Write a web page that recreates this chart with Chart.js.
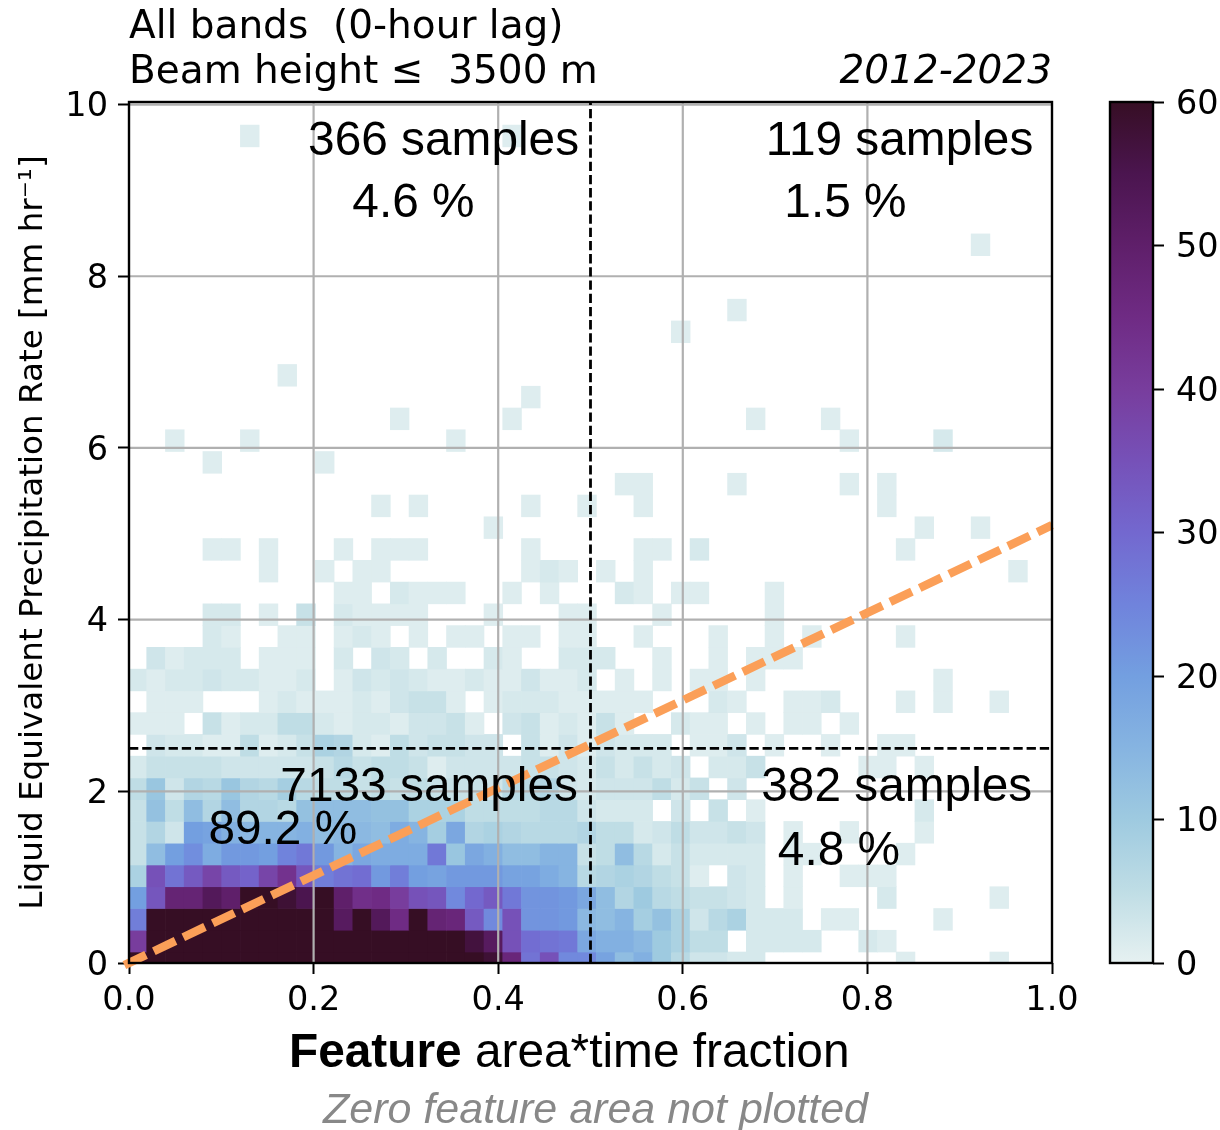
<!DOCTYPE html>
<html>
<head>
<meta charset="utf-8">
<style>
html,body{margin:0;padding:0;background:#fff;width:1220px;height:1130px;overflow:hidden}
#wrap{position:relative;width:1220px;height:1130px}
canvas{position:absolute;display:block}
</style>
<script src="https://cdn.jsdelivr.net/npm/chart.js@4/dist/chart.umd.min.js"></script>
</head>
<body>
<div id="wrap">
<canvas id="main" width="1220" height="1130" style="left:0;top:0;width:1220px;height:1130px"></canvas>
<canvas id="bar" width="120" height="1130" style="left:1100px;top:0;width:120px;height:1130px"></canvas>
</div>
<script>
// Sample counts per histogram cell, rows from the bottom (0 mm/hr) upward, 50 columns each.
const row0  = [60,60,60,60,60,60,60,60,60,60,60,60,60,60,60,60,60,60,60,58,47,28,35,24,24, 19,13,16,10,6,3,3,2,2,0,0,0,0,0,0,0,1,0,0,0,0,1,0,0,0];
const row1  = [40,60,60,60,60,60,60,60,60,60,60,60,60,60,60,60,60,60,57,52,35,29,28,27,18, 16,16,14,10,8,5,5,0,2,2,2,2,0,0,2,1,0,0,0,0,0,0,0,0,0];
const row2  = [26,60,60,60,60,60,60,60,60,60,60,52,60,53,45,60,48,47,33,24,35,22,22,21,14, 13,15,9,12,8,3,6,8,2,2,2,0,1,1,0,0,0,0,1,0,0,0,0,0,0];
const row3  = [20,34,48,48,53,50,60,60,58,55,60,50,44,45,40,35,34,24,30,33,27,22,22,21,18, 13,7,10,6,5,4,4,3,2,0,1,0,0,0,0,2,0,0,0,0,0,1,0,0,0];
const row4  = [8,35,28,33,38,33,31,38,43,34,26,28,29,21,26,20,19,21,21,21,19,19,17,15,6, 7,8,7,5,4,1,0,3,2,0,1,0,0,1,1,1,0,0,0,0,0,0,0,0,0];
const row5  = [4,13,20,23,17,21,21,20,25,27,21,15,18,17,17,17,27,11,18,16,13,13,15,15,4, 5,13,6,2,4,2,2,2,2,0,1,1,0,0,0,0,1,0,0,0,0,0,0,0,0];
const row6  = [4,7,3,20,19,16,14,15,15,16,13,14,14,13,17,15,9,18,7,8,7,6,6,6,7, 5,5,2,3,5,3,3,4,3,0,1,0,0,1,0,0,0,1,0,0,0,0,0,0,0];
const row7  = [4,12,5,13,7,13,7,7,6,12,13,13,13,12,12,8,8,8,5,5,5,5,6,6,3, 2,2,2,0,3,0,4,0,1,0,0,0,0,0,0,0,0,2,0,0,0,0,0,0,0];
const row8  = [5,11,3,7,6,11,7,6,9,6,5,5,4,5,4,5,4,4,4,3,6,6,7,3,2, 3,3,3,5,2,4,0,3,0,0,0,0,0,0,0,0,0,0,0,0,0,0,0,0,0];
const row9  = [2,4,4,4,4,3,3,3,3,3,4,6,4,5,5,4,1,3,3,3,3,4,4,3,2, 4,2,4,2,3,0,2,2,4,0,0,0,0,0,1,1,0,1,0,0,0,0,0,0,0];
const row10 = [0,3,2,2,1,1,5,1,2,4,8,7,2,1,5,3,4,4,3,3,0,4,1,3,1, 3,2,2,2,0,1,1,3,0,1,0,0,1,0,0,1,1,0,0,0,0,0,0,0,0];
const row11 = [1,1,1,0,4,1,2,2,5,5,2,1,2,2,1,3,3,4,1,0,3,4,1,2,1, 4,1,0,0,2,1,1,0,1,0,1,1,0,1,0,0,0,0,0,0,0,0,0,0,0];
const row12 = [0,1,1,1,0,0,0,1,2,1,1,1,2,1,3,4,4,1,0,1,2,2,2,1,1, 1,1,1,0,0,0,2,1,0,0,1,1,2,0,0,0,1,0,1,0,0,1,0,0,0];
const row13 = [2,1,2,2,3,2,2,1,1,2,0,1,3,2,3,2,1,1,2,1,1,3,1,1,2, 0,1,0,1,0,1,1,0,1,0,0,0,0,0,0,0,0,0,1,0,0,0,0,0,0];
const row14 = [0,3,1,2,2,2,0,1,1,1,0,2,0,3,2,0,2,0,0,2,1,0,0,2,2, 2,0,0,1,0,0,1,0,1,1,1,0,0,0,0,0,0,0,0,0,0,0,0,0,0];
const denseRows = [row0,row1,row2,row3,row4,row5,row6,row7,row8,row9,row10,row11,row12,row13,row14];
// Sparse upper rows: [row, column, count]
const sparseCells = [
 [15,4,2],[15,5,1],[15,8,1],[15,9,1],[15,11,1],[15,12,2],[15,13,1],[15,15,1],[15,17,1],[15,18,1],[15,20,1],[15,21,1],[15,23,1],[15,24,1],[15,27,1],[15,31,1],[15,34,1],[15,36,1],[15,41,1],
 [16,4,2],[16,5,2],[16,7,1],[16,9,4],[16,11,2],[16,12,1],[16,13,1],[16,14,1],[16,15,1],[16,19,1],[16,23,1],[16,24,1],[16,28,1],[16,34,1],
 [17,11,1],[17,12,1],[17,14,2],[17,15,1],[17,16,1],[17,17,1],[17,20,1],[17,22,1],[17,26,2],[17,27,1],[17,29,1],[17,30,1],[17,34,1],
 [18,7,1],[18,10,1],[18,12,1],[18,13,1],[18,21,1],[18,22,2],[18,23,1],[18,25,1],[18,27,1],[18,47,1],
 [19,4,1],[19,5,1],[19,7,1],[19,11,1],[19,13,1],[19,14,1],[19,15,1],[19,21,1],[19,27,1],[19,28,1],[19,30,2],[19,41,1],
 [20,19,1],[20,42,1],[20,45,1],
 [21,13,1],[21,15,1],[21,21,1],[21,24,1],[21,27,1],[21,40,1],
 [22,26,1],[22,27,1],[22,32,1],[22,38,1],[22,40,1],
 [23,4,1],[23,10,1],
 [24,2,1],[24,6,1],[24,17,1],[24,38,1],[24,43,2],
 [25,14,1],[25,20,1],[25,33,1],[25,37,1],
 [26,21,1],[27,8,1],[29,29,1],[30,32,1],[33,45,1],[38,6,1],[38,20,1]
];
const xTicks = [0,0.2,0.4,0.6,0.8,1];
const yTicks = [0,2,4,6,8,10];
const colorTicks = [0,10,20,30,40,50,60];
const fitLine = [{x:-0.005,y:-0.0255},{x:1,y:5.1}];
const xSplit = 0.5;
const ySplit = 2.5;
const quadrantLabels = [
 {text:"366 samples",x:0.194,y:9.41},{text:"4.6 %",x:0.242,y:8.69},
 {text:"119 samples",x:0.690,y:9.41},{text:"1.5 %",x:0.710,y:8.69},
 {text:"7133 samples",x:0.164,y:1.89},{text:"89.2 %",x:0.086,y:1.39},
 {text:"382 samples",x:0.685,y:1.89},{text:"4.8 %",x:0.703,y:1.14}
];
const titleLine1 = "All bands  (0-hour lag)";
const titleLine2 = "Beam height \u2264  3500 m";
const yearsLabel = "2012-2023";
const yAxisLabel = "Liquid Equivalent Precipitation Rate [mm hr\u207B\u00B9]";
const xLabelBold = "Feature";
const xLabelRest = " area*time fraction";
const footnote = "Zero feature area not plotted";
const denseStops = [[0,"#e6f1f1"],[5,"#bfdde5"],[10,"#9ecae0"],[15,"#86b4e1"],[20,"#739fe0"],[25,"#7083dc"],[30,"#7368cf"],[35,"#7651b8"],[40,"#783d9d"],[45,"#6f2b84"],[50,"#5f1f6a"],[55,"#4b154f"],[60,"#360e24"]];

// Layout of the plot
const plotLeft=129, plotRight=1052, plotTop=102, plotBottom=963, yTop=10.03;
const colW = 0.0203, colStart = -0.0011, firstRowTop = 0.128, rowH = 0.2535;

function hex(c){return [1,3,5].map(i=>parseInt(c.substr(i,2),16));}
function colormap(v){
  v=Math.min(60,Math.max(0,v));
  for(let i=1;i<denseStops.length;i++){
    if(v<=denseStops[i][0]){
      const a=denseStops[i-1],b=denseStops[i],t=(v-a[0])/(b[0]-a[0]);
      const A=hex(a[1]),B=hex(b[1]);
      return "rgb("+A.map((q,j)=>Math.round(q+(B[j]-q)*t)).join(",")+")";
    }
  }
  return denseStops[denseStops.length-1][1];
}
function cell(k,i,v){
  const lo = k===0 ? 0 : firstRowTop+rowH*(k-1);
  const hi = firstRowTop+rowH*k;
  return {x:colStart+colW*(i+0.5), y:[lo,hi], v};
}
const cells=[];
denseRows.forEach((r,k)=>r.forEach((v,i)=>{ if(v>0) cells.push(cell(k,i,v)); }));
sparseCells.forEach(([k,i,v])=>{ if(v>0) cells.push(cell(k,i,v)); });

const tickFont={family:"'DejaVu Sans'",size:33.5};
const grey="#b0b0b0";
function gridSets(){
  const out=[];
  xTicks.filter(t=>t>0&&t<1).forEach(t=>out.push({type:'line',data:[{x:t,y:0},{x:t,y:yTop}],borderColor:grey,borderWidth:2.2,pointRadius:0,order:4}));
  yTicks.filter(t=>t>0).forEach(t=>out.push({type:'line',data:[{x:0,y:t},{x:1,y:t}],borderColor:grey,borderWidth:2.2,pointRadius:0,order:4}));
  return out;
}
const decorate={
  id:'decorate',
  afterDraw(chart){
    const c=chart.ctx,a=chart.chartArea,sx=chart.scales.x,sy=chart.scales.y;
    c.save();
    c.strokeStyle="#000";c.lineWidth=2.4;c.strokeRect(a.left,a.top,a.right-a.left,a.bottom-a.top);
    c.fillStyle="#000";c.textAlign="left";c.textBaseline="alphabetic";
    c.font="47.8px 'Liberation Sans'";
    quadrantLabels.forEach(l=>c.fillText(l.text,sx.getPixelForValue(l.x),sy.getPixelForValue(l.y)));
    c.font="39px 'DejaVu Sans'";
    c.fillText(titleLine1,129,38);
    c.fillText(titleLine2,129,83);
    c.font="italic 39px 'DejaVu Sans'";c.textAlign="right";
    c.fillText(yearsLabel,plotRight,83);
    c.textAlign="left";
    c.font="bold 47.8px 'Liberation Sans'";
    const w=c.measureText(xLabelBold).width;
    c.fillText(xLabelBold,289,1067);
    c.font="47.8px 'Liberation Sans'";
    c.fillText(xLabelRest,289+w,1067);
    c.font="italic 43px 'Liberation Sans'";c.fillStyle="#888888";
    c.fillText(footnote,323,1123);
    c.restore();
  }
};
new Chart(document.getElementById('main'),{
  type:'bar',
  data:{datasets:[
    {type:'bar',data:cells,order:5,barThickness:(plotRight-plotLeft)*colW,grouped:false,borderWidth:0,
     backgroundColor:ctx=>ctx.raw?colormap(ctx.raw.v):"#fff"},
    ...gridSets(),
    {type:'line',data:[{x:xSplit,y:0},{x:xSplit,y:yTop}],borderColor:"#000",borderWidth:2.8,borderDash:[9.3,3.9],pointRadius:0,order:3},
    {type:'line',data:[{x:0,y:ySplit},{x:1,y:ySplit}],borderColor:"#000",borderWidth:2.8,borderDash:[9.3,3.9],pointRadius:0,order:3},
    {type:'line',data:fitLine,borderColor:"#fb9f58",borderWidth:8.5,borderDash:[24,8.6],pointRadius:0,order:1,clip:false}
  ]},
  options:{
    responsive:false,animation:false,devicePixelRatio:1,
    layout:{padding:{left:0,right:1220-plotRight,top:plotTop,bottom:0}},
    plugins:{legend:{display:false},tooltip:{enabled:false},title:{display:false}},
    scales:{
      x:{type:'linear',offset:false,min:0,max:1,
         afterBuildTicks:s=>{s.ticks=xTicks.map(v=>({value:v}));},
         afterFit:s=>{s.height=1130-plotBottom;},
         grid:{offset:false,drawOnChartArea:false,drawTicks:true,tickLength:11,tickColor:"#000",tickWidth:2},
         border:{display:false},
         ticks:{font:tickFont,color:"#000",padding:7,maxRotation:0,callback:v=>v.toFixed(1)}},
      y:{type:'linear',min:0,max:yTop,
         afterBuildTicks:s=>{s.ticks=yTicks.map(v=>({value:v}));},
         afterFit:s=>{s.width=plotLeft;},
         grid:{drawOnChartArea:false,drawTicks:true,tickLength:11,tickColor:"#000",tickWidth:2},
         border:{display:false},
         title:{display:true,text:yAxisLabel,color:"#000",font:{family:"'DejaVu Sans'",size:32.6},padding:{top:14,bottom:0}},
         ticks:{font:tickFont,color:"#000",padding:10,labelOffset:3,callback:v=>String(v)}}
    }
  },
  plugins:[decorate]
});
const barLeft=10,barRightGap=67;
new Chart(document.getElementById('bar'),{
  type:'bar',
  data:{labels:["count"],datasets:[{data:[[0,60]],barPercentage:1,categoryPercentage:1,borderWidth:0,
    backgroundColor:ctx=>{
      const a=ctx.chart.chartArea; if(!a) return denseStops[0][1];
      const g=ctx.chart.ctx.createLinearGradient(0,a.bottom,0,a.top);
      denseStops.forEach(s=>g.addColorStop(s[0]/60,s[1]));
      return g;
    }}]},
  options:{
    responsive:false,animation:false,devicePixelRatio:1,
    layout:{padding:{left:barLeft,right:0,top:plotTop,bottom:1130-plotBottom}},
    plugins:{legend:{display:false},tooltip:{enabled:false}},
    scales:{
      x:{display:false},
      y:{position:'right',min:0,max:60,
         afterBuildTicks:s=>{s.ticks=colorTicks.map(v=>({value:v}));},
         afterFit:s=>{s.width=barRightGap;},
         grid:{drawOnChartArea:false,drawTicks:true,tickLength:11,tickColor:"#000",tickWidth:2},
         border:{display:false},
         ticks:{font:tickFont,color:"#000",padding:12,labelOffset:3,callback:v=>String(v)}}
    }
  },
  plugins:[{id:'frame',afterDraw(ch){const c=ch.ctx,a=ch.chartArea;c.save();c.strokeStyle="#000";c.lineWidth=2.4;c.strokeRect(a.left,a.top,a.right-a.left,a.bottom-a.top);c.restore();}}]
});
</script>
</body>
</html>
